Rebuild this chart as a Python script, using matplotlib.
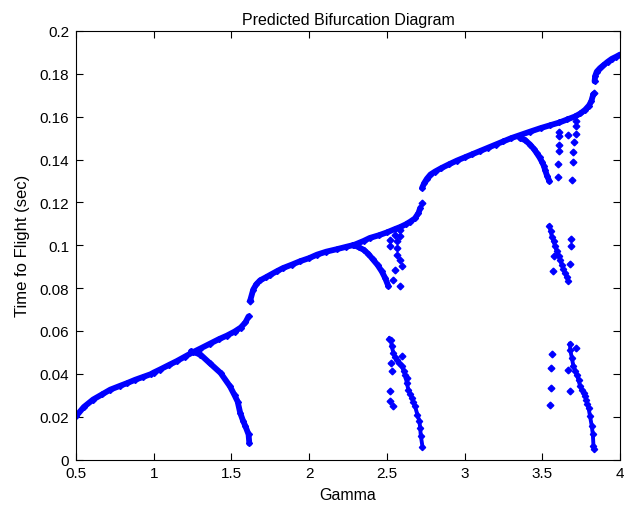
import matplotlib
matplotlib.use("Agg")
import matplotlib.pyplot as plt
from matplotlib import font_manager

# ---- data: continuous branches (gamma, time of flight) ----
main_a_g = [0.50, 0.55, 0.61, 0.67, 0.72, 0.78, 0.83, 0.88, 0.93, 0.98, 1.00, 1.04, 1.10,
            1.15, 1.20, 1.25, 1.30, 1.36, 1.42, 1.47, 1.52, 1.56, 1.59, 1.61]
main_a_t = [0.0202, 0.0245, 0.0280, 0.0305, 0.0326, 0.0343, 0.0357, 0.0372, 0.0385, 0.0398,
            0.0406, 0.0420, 0.0442, 0.0460, 0.0480, 0.0500, 0.0518, 0.0540, 0.0562, 0.0578,
            0.0597, 0.0616, 0.0640, 0.0668]

main_b_g = [1.622, 1.64, 1.66, 1.684, 1.72, 1.75, 1.79, 1.83, 1.89, 1.94, 2.00, 2.05, 2.11,
            2.18, 2.24, 2.29, 2.35, 2.39, 2.45, 2.50, 2.55, 2.585, 2.62, 2.65, 2.68, 2.703, 2.715]
main_b_t = [0.0746, 0.0793, 0.0818, 0.0836, 0.0850, 0.0862, 0.0878, 0.0893, 0.0910, 0.0925,
            0.0940, 0.0956, 0.0970, 0.0982, 0.0993, 0.1002, 0.1020, 0.1034, 0.1047, 0.1060,
            0.1075, 0.1085, 0.1097, 0.1110, 0.1125, 0.1150, 0.1175]

main_c_g = [2.726, 2.74, 2.757, 2.78, 2.81, 2.85, 2.90, 2.95, 3.00, 3.05, 3.10, 3.15, 3.20,
            3.25, 3.30, 3.36, 3.42, 3.49, 3.55, 3.61, 3.66, 3.71, 3.745, 3.775, 3.80, 3.815, 3.828]
main_c_t = [0.1267, 0.1290, 0.1310, 0.1330, 0.1344, 0.1360, 0.1378, 0.1395, 0.1410, 0.1425,
            0.1440, 0.1455, 0.1470, 0.1485, 0.1500, 0.1515, 0.1530, 0.1547, 0.1560, 0.1573,
            0.1587, 0.1601, 0.1615, 0.1632, 0.1652, 0.1672, 0.1705]

main_d_g = [3.836, 3.84, 3.85, 3.87, 3.893, 3.92, 3.947, 3.975, 4.00]
main_d_t = [0.1765, 0.1790, 0.1810, 0.1826, 0.1840, 0.1856, 0.1870, 0.1880, 0.1890]

low1_g = [1.24, 1.30, 1.36, 1.43, 1.49, 1.52, 1.54, 1.556, 1.575, 1.59, 1.61, 1.615]
low1_t = [0.0505, 0.0490, 0.0450, 0.0404, 0.0342, 0.0300, 0.0270, 0.0218, 0.0180, 0.0155,
          0.0117, 0.0075]

low2_g = [2.285, 2.32, 2.35, 2.38, 2.41, 2.44, 2.467, 2.49, 2.51]
low2_t = [0.1002, 0.0990, 0.0979, 0.0960, 0.0934, 0.0908, 0.0878, 0.0845, 0.0808]

low3_g = [3.357, 3.39, 3.421, 3.445, 3.464, 3.482, 3.497, 3.51, 3.518, 3.53, 3.546]
low3_t = [0.1500, 0.1490, 0.1470, 0.1450, 0.1430, 0.1410, 0.1390, 0.1370, 0.1350, 0.1325, 0.1298]

# ---- data: period-doubled clusters (dense marker runs) ----
run2_g = [2.515, 2.525, 2.531, 2.542, 2.553, 2.564, 2.58, 2.596, 2.607, 2.617, 2.628, 2.638,
          2.649, 2.66, 2.67, 2.681, 2.696, 2.709, 2.714, 2.718, 2.729]
run2_t = [0.0564, 0.0560, 0.0528, 0.0497, 0.0480, 0.0466, 0.0450, 0.0435, 0.0415, 0.0396,
          0.0358, 0.0326, 0.0307, 0.0288, 0.0268, 0.0248, 0.0210, 0.0179, 0.0148, 0.0112, 0.0059]

run3m_g = [3.546, 3.554, 3.561, 3.572, 3.582, 3.593, 3.604, 3.615, 3.625, 3.636, 3.647, 3.657, 3.668]
run3m_t = [0.1090, 0.1065, 0.1040, 0.1018, 0.0995, 0.0972, 0.0950, 0.0930, 0.0910, 0.0890,
           0.0870, 0.0850, 0.0833]

run3l_g = [3.679, 3.679, 3.690, 3.700, 3.711, 3.722, 3.733, 3.743, 3.754, 3.765, 3.775, 3.782,
           3.790, 3.797, 3.807, 3.818, 3.825, 3.829, 3.830]
run3l_t = [0.0540, 0.0513, 0.0474, 0.0435, 0.0415, 0.0396, 0.0370, 0.0342, 0.0326, 0.0310,
           0.0295, 0.0280, 0.0260, 0.0241, 0.0202, 0.0156, 0.0117, 0.0062, 0.0051]

# ---- data: isolated points ----
pts_g = [1.62, 2.724, 3.833,
         2.52, 2.52, 2.553, 2.585, 2.585, 2.564, 2.564, 2.568, 2.585, 2.596, 2.553, 2.538, 2.585,
         2.525, 2.531, 2.52, 2.52, 2.542, 2.596, 2.628,
         3.61, 3.61, 3.605, 3.605, 3.60, 3.60,
         3.668, 3.717, 3.717, 3.717, 3.705, 3.70, 3.696, 3.69,
         3.572, 3.568, 3.683, 3.683, 3.679,
         3.561, 3.555, 3.555, 3.55, 3.717, 3.668, 3.679]
pts_t = [0.0738, 0.1197, 0.1710,
         0.1026, 0.0998, 0.1049, 0.1072, 0.1041, 0.1018, 0.0987, 0.0956, 0.0932, 0.0901, 0.0886,
         0.0839, 0.0808,
         0.0451, 0.0412, 0.0318, 0.0272, 0.0249, 0.0482, 0.0381,
         0.1530, 0.1510, 0.1470, 0.1440, 0.1380, 0.1320,
         0.1515, 0.1580, 0.1555, 0.1517, 0.1480, 0.1434, 0.1390, 0.1306,
         0.0950, 0.0882, 0.1030, 0.0998, 0.0914,
         0.0494, 0.0428, 0.0334, 0.0254, 0.0520, 0.0420, 0.0319]

x_ticks = [0.5, 1, 1.5, 2, 2.5, 3, 3.5, 4]
x_tick_labels = ["0.5", "1", "1.5", "2", "2.5", "3", "3.5", "4"]
y_ticks = [0, 0.02, 0.04, 0.06, 0.08, 0.1, 0.12, 0.14, 0.16, 0.18, 0.2]
y_tick_labels = ["0", "0.02", "0.04", "0.06", "0.08", "0.1", "0.12", "0.14", "0.16", "0.18", "0.2"]

# ---- styling ----
names = {f.name for f in font_manager.fontManager.ttflist}
family = ["Liberation Sans Narrow"] if "Liberation Sans Narrow" in names else ["Liberation Sans"]
plt.rcParams["font.family"] = family + ["DejaVu Sans"]

BLUE = "#0000ff"

fig = plt.figure(figsize=(6.32, 5.06), dpi=100)
ax = fig.add_axes([0.1203, 0.0899, 0.8608, 0.8469])

curves = [(main_a_g, main_a_t), (main_b_g, main_b_t), (main_c_g, main_c_t),
          (main_d_g, main_d_t), (low1_g, low1_t), (low2_g, low2_t), (low3_g, low3_t)]
for g, t in curves:
    ax.plot(g, t, color=BLUE, lw=4.2, solid_capstyle="round",
            marker="D", ms=3.0, mec=BLUE, mfc=BLUE)

for g, t in [(run2_g, run2_t), (run3m_g, run3m_t), (run3l_g, run3l_t)]:
    ax.plot(g, t, color=BLUE, lw=2.8, marker="D", ms=3.2, mec=BLUE, mfc=BLUE)

ax.plot(pts_g, pts_t, ls="none", marker="D", ms=3.4, mec=BLUE, mfc=BLUE)

ax.set_xlim(0.5, 4)
ax.set_ylim(0, 0.2)
ax.set_xticks(x_ticks)
ax.set_xticklabels(x_tick_labels)
ax.set_yticks(y_ticks)
ax.set_yticklabels(y_tick_labels)
ax.tick_params(direction="in", length=5, width=0.8, top=True, right=True,
               labelsize=11)
ax.tick_params(axis="x", pad=5)
ax.tick_params(axis="y", pad=5)
for s in ax.spines.values():
    s.set_linewidth(0.8)

ax.set_title("Predicted Bifurcation Diagram", fontsize=11.5, pad=5)
ax.set_xlabel("Gamma", fontsize=11.5, labelpad=5)
ax.set_ylabel("Time fo Flight (sec)", fontsize=12, labelpad=7)

fig.savefig("out.png", dpi=100, facecolor="white")
